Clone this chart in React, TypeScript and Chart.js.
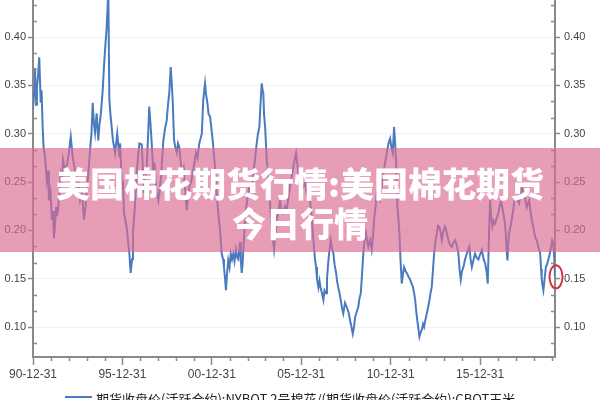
import React, { useEffect, useRef } from 'react';
import { Chart, registerables } from 'chart.js';

Chart.register(...registerables);

// Years elapsed since 1990-12-31 for each sampled point
const tYears: number[] = [
  0.00, 0.06, 0.11, 0.17, 0.22, 0.28, 0.35, 0.43, 0.48, 0.54,
  0.59, 0.67, 0.77, 0.84, 0.89, 0.98, 1.05, 1.12, 1.17, 1.23,
  1.29, 1.34, 1.40, 1.48, 1.55, 1.62, 1.68, 1.79, 1.88, 1.99,
  2.11, 2.22, 2.32, 2.44, 2.54, 2.63, 2.74, 2.85, 2.94, 3.00,
  3.10, 3.19, 3.27, 3.34, 3.41, 3.47, 3.56, 3.65, 3.72, 3.79,
  3.90, 3.97, 4.03, 4.12, 4.17, 4.21, 4.27, 4.33, 4.40, 4.47,
  4.59, 4.71, 4.83, 4.87, 4.96, 5.03, 5.09, 5.24, 5.31, 5.39,
  5.46, 5.54, 5.59, 5.70, 5.80, 5.87, 5.95, 6.08, 6.15, 6.21,
  6.29, 6.36, 6.43, 6.50, 6.57, 6.64, 6.73, 6.80, 6.88, 7.01,
  7.08, 7.14, 7.21, 7.29, 7.38, 7.48, 7.55, 7.62, 7.70, 7.75,
  7.81, 7.89, 7.97, 8.04, 8.11, 8.18, 8.32, 8.42, 8.50, 8.60,
  8.67, 8.74, 8.84, 8.93, 9.03, 9.12, 9.20, 9.30, 9.44, 9.52,
  9.62, 9.68, 9.75, 9.82, 9.90, 10.05, 10.18, 10.26, 10.36, 10.46,
  10.55, 10.63, 10.68, 10.74, 10.79, 10.85, 10.92, 10.99, 11.06, 11.13,
  11.20, 11.27, 11.35, 11.41, 11.48, 11.52, 11.58, 11.62, 11.67, 11.72,
  11.76, 11.83, 11.91, 12.00, 12.10, 12.19, 12.29, 12.39, 12.51, 12.58,
  12.66, 12.72, 12.79, 12.84, 12.88, 12.92, 12.98, 13.07, 13.14, 13.22,
  13.28, 13.35, 13.42, 13.48, 13.56, 13.63, 13.73, 13.81, 13.90, 14.00,
  14.09, 14.19, 14.29, 14.37, 14.46, 14.56, 14.65, 14.71, 14.77, 14.84,
  14.93, 15.03, 15.12, 15.21, 15.31, 15.41, 15.49, 15.58, 15.68, 15.77,
  15.83, 15.88, 15.96, 16.02, 16.09, 16.16, 16.24, 16.30, 16.39, 16.44,
  16.52, 16.58, 16.65, 16.72, 16.80, 16.86, 16.95, 17.00, 17.08, 17.14,
  17.21, 17.28, 17.35, 17.45, 17.54, 17.65, 17.73, 17.81, 17.88, 17.95,
  18.01, 18.09, 18.19, 18.26, 18.33, 18.40, 18.47, 18.54, 18.62, 18.68,
  18.75, 18.85, 18.94, 19.02, 19.07, 19.16, 19.22, 19.32, 19.41, 19.49,
  19.59, 19.69, 19.78, 19.88, 19.97, 20.05, 20.12, 20.19, 20.25, 20.30,
  20.38, 20.44, 20.49, 20.55, 20.62, 20.69, 20.75, 20.83, 20.90, 21.00,
  21.09, 21.17, 21.24, 21.31, 21.37, 21.42, 21.49, 21.56, 21.61, 21.67,
  21.74, 21.81, 21.87, 21.95, 22.02, 22.09, 22.17, 22.23, 22.30, 22.37,
  22.43, 22.51, 22.58, 22.65, 22.72, 22.79, 22.86, 22.93, 23.04, 23.13,
  23.23, 23.32, 23.42, 23.52, 23.60, 23.69, 23.79, 23.85, 23.92, 23.99,
  24.07, 24.16, 24.26, 24.33, 24.40, 24.47, 24.54, 24.64, 24.72, 24.80,
  24.91, 25.00, 25.10, 25.20, 25.28, 25.36, 25.43, 25.50, 25.56, 25.62,
  25.69, 25.76, 25.84, 25.92, 26.02, 26.09, 26.17, 26.23, 26.30, 26.37,
  26.44, 26.48, 26.53, 26.57, 26.62, 26.71, 26.77, 26.85, 26.92, 26.99,
  27.05, 27.13, 27.18, 27.27, 27.33, 27.41, 27.48, 27.55, 27.61, 27.68,
  27.74, 27.82, 27.89, 27.96, 28.04, 28.10, 28.17, 28.27, 28.36, 28.41,
  28.45, 28.50, 28.54, 28.61, 28.68, 28.75, 28.82, 28.89, 28.97, 29.03,
  29.10, 29.15, 29.19,
];

// Cotton / corn futures close ratio
const ratioValues: number[] = [
  0.325, 0.345, 0.368, 0.330, 0.348, 0.360, 0.379, 0.332, 0.345, 0.307,
  0.286, 0.276, 0.252, 0.262, 0.231, 0.240, 0.211, 0.220, 0.192, 0.205,
  0.224, 0.215, 0.221, 0.240, 0.259, 0.255, 0.273, 0.262, 0.266, 0.278,
  0.297, 0.276, 0.265, 0.245, 0.250, 0.231, 0.240, 0.211, 0.225, 0.239,
  0.260, 0.283, 0.300, 0.332, 0.310, 0.301, 0.321, 0.293, 0.310, 0.320,
  0.345, 0.370, 0.387, 0.410, 0.430, 0.450, 0.335, 0.320, 0.307, 0.293,
  0.280, 0.300, 0.276, 0.290, 0.249, 0.250, 0.218, 0.203, 0.190, 0.176,
  0.156, 0.170, 0.197, 0.225, 0.259, 0.275, 0.290, 0.289, 0.260, 0.239,
  0.255, 0.266, 0.295, 0.328, 0.310, 0.290, 0.259, 0.270, 0.245, 0.231,
  0.240, 0.252, 0.270, 0.293, 0.305, 0.314, 0.330, 0.342, 0.369, 0.355,
  0.335, 0.293, 0.285, 0.280, 0.290, 0.286, 0.259, 0.265, 0.245, 0.221,
  0.235, 0.245, 0.250, 0.259, 0.270, 0.280, 0.275, 0.290, 0.300, 0.335,
  0.352, 0.340, 0.332, 0.320, 0.318, 0.293, 0.265, 0.240, 0.218, 0.200,
  0.176, 0.170, 0.162, 0.150, 0.138, 0.155, 0.169, 0.162, 0.176, 0.170,
  0.176, 0.168, 0.180, 0.172, 0.170, 0.178, 0.188, 0.170, 0.156, 0.165,
  0.180, 0.200, 0.221, 0.235, 0.245, 0.240, 0.252, 0.270, 0.290, 0.300,
  0.307, 0.330, 0.352, 0.345, 0.342, 0.320, 0.307, 0.273, 0.260, 0.245,
  0.220, 0.200, 0.190, 0.180, 0.195, 0.211, 0.220, 0.231, 0.220, 0.218,
  0.225, 0.221, 0.235, 0.245, 0.255, 0.266, 0.275, 0.280, 0.270, 0.259,
  0.259, 0.242, 0.245, 0.250, 0.238, 0.235, 0.231, 0.215, 0.190, 0.170,
  0.162, 0.150, 0.141, 0.148, 0.140, 0.135, 0.128, 0.138, 0.135, 0.150,
  0.169, 0.180, 0.190, 0.182, 0.176, 0.165, 0.156, 0.148, 0.140, 0.135,
  0.128, 0.120, 0.114, 0.125, 0.121, 0.115, 0.107, 0.100, 0.093, 0.100,
  0.110, 0.115, 0.121, 0.130, 0.135, 0.155, 0.176, 0.190, 0.197, 0.190,
  0.183, 0.190, 0.180, 0.195, 0.211, 0.225, 0.238, 0.235, 0.231, 0.245,
  0.259, 0.270, 0.280, 0.290, 0.295, 0.285, 0.280, 0.307, 0.290, 0.273,
  0.224, 0.210, 0.197, 0.170, 0.145, 0.155, 0.162, 0.158, 0.156, 0.152,
  0.149, 0.145, 0.142, 0.135, 0.128, 0.118, 0.107, 0.097, 0.090, 0.094,
  0.097, 0.103, 0.100, 0.108, 0.114, 0.120, 0.128, 0.135, 0.142, 0.160,
  0.176, 0.190, 0.197, 0.205, 0.204, 0.198, 0.190, 0.198, 0.204, 0.198,
  0.190, 0.185, 0.183, 0.188, 0.190, 0.185, 0.176, 0.160, 0.149, 0.158,
  0.162, 0.170, 0.176, 0.180, 0.183, 0.170, 0.162, 0.170, 0.176, 0.172,
  0.170, 0.175, 0.180, 0.170, 0.166, 0.158, 0.145, 0.197, 0.231, 0.215,
  0.204, 0.210, 0.207, 0.212, 0.218, 0.225, 0.231, 0.225, 0.218, 0.210,
  0.197, 0.180, 0.169, 0.185, 0.197, 0.205, 0.211, 0.220, 0.231, 0.233,
  0.235, 0.230, 0.228, 0.238, 0.245, 0.240, 0.238, 0.230, 0.224, 0.228,
  0.231, 0.220, 0.211, 0.205, 0.197, 0.192, 0.190, 0.182, 0.176, 0.160,
  0.149, 0.142, 0.138, 0.150, 0.162, 0.165, 0.170, 0.175, 0.183, 0.190,
  0.187, 0.170, 0.152,
];

const xTickYears: number[] = [0, 5, 10, 15, 20, 25];
const xTickLabels: string[] = ['90-12-31', '95-12-31', '00-12-31', '05-12-31', '10-12-31', '15-12-31'];
const yTickValues: number[] = [0.10, 0.15, 0.20, 0.25, 0.30, 0.35, 0.40];

const X_MIN = 0;
const X_MAX = 29.19;
const Y_MIN = 0.069;
const Y_MAX = 0.4383;

const LEGEND_TEXT = '期货收盘价(活跃合约):NYBOT 2号棉花/(期货收盘价(活跃合约):CBOT玉米';
const TITLE_LINE1 = '美国棉花期货行情:美国棉花期货';
const TITLE_LINE2 = '今日行情';

const LINE_COLOR = '#4a7bbf';
const AXIS_COLOR = '#8a8a8a';
const LABEL_COLOR = '#444444';
const TICK_FONT = 'Liberation Sans';

const zeroPad = (s: any) => {
  s.paddingTop = 0;
  s.paddingBottom = 0;
  s.paddingLeft = 0;
  s.paddingRight = 0;
};

const decorPlugin = {
  id: 'decor',
  afterDraw(chart: any) {
    const ctx: CanvasRenderingContext2D = chart.ctx;
    const xs = chart.scales.x;
    const ys = chart.scales.y;
    const { left, right, top, bottom } = chart.chartArea;
    ctx.save();
    ctx.strokeStyle = AXIS_COLOR;
    ctx.lineWidth = 1.5;
    // minor y ticks (inward)
    const step = 0.05 / 3;
    for (let i = 0; i < 40; i++) {
      const v = 0.1 - step + i * step;
      if (v > Y_MAX) break;
      if (Math.abs(v * 20 - Math.round(v * 20)) < 1e-6) continue;
      const py = Math.round(ys.getPixelForValue(v)) + 0.5;
      if (py < top) continue;
      ctx.beginPath();
      ctx.moveTo(left, py);
      ctx.lineTo(left + 4, py);
      ctx.moveTo(right - 4, py);
      ctx.lineTo(right, py);
      ctx.stroke();
    }
    // minor x ticks (outward, short)
    for (let yr = 1; yr <= Math.floor(X_MAX); yr++) {
      if (yr % 5 === 0) continue;
      const px = Math.round(xs.getPixelForValue(yr)) + 0.5;
      ctx.beginPath();
      ctx.moveTo(px, bottom);
      ctx.lineTo(px, bottom + 4);
      ctx.stroke();
    }
    // red annotation ellipse around the last point
    const lastIdx = tYears.length - 1;
    const lx = xs.getPixelForValue(tYears[lastIdx]);
    const ly = ys.getPixelForValue(ratioValues[lastIdx]);
    ctx.strokeStyle = '#d2353c';
    ctx.lineWidth = 2;
    ctx.beginPath();
    ctx.ellipse(lx + 1, ly, 6.5, 11.5, 0, 0, Math.PI * 2);
    ctx.stroke();
    // legend (partly below the visible area)
    ctx.strokeStyle = LINE_COLOR;
    ctx.lineWidth = 2;
    ctx.beginPath();
    ctx.moveTo(65, 397);
    ctx.lineTo(92, 397);
    ctx.stroke();
    ctx.fillStyle = '#222';
    ctx.font = '13px "Noto Sans CJK SC"';
    ctx.textBaseline = 'middle';
    ctx.textAlign = 'left';
    ctx.fillText(LEGEND_TEXT, 96, 399);
    ctx.restore();
  },
};

export default function App() {
  const ref = useRef<HTMLCanvasElement>(null);
  useEffect(() => {
    const points = tYears.map((t, i) => ({ x: t, y: ratioValues[i] }));
    const tickFont = { family: TICK_FONT, size: 11 };
    const chart = new Chart(ref.current as HTMLCanvasElement, {
      type: 'line',
      data: {
        datasets: [
          {
            label: LEGEND_TEXT,
            data: points,
            borderColor: LINE_COLOR,
            backgroundColor: LINE_COLOR,
            borderWidth: 2,
            pointRadius: 0,
            tension: 0,
            fill: false,
          },
        ],
      },
      options: {
        animation: false,
        responsive: false,
        devicePixelRatio: 1,
        layout: { padding: 0 },
        plugins: { legend: { display: false }, tooltip: { enabled: false } },
        scales: {
          x: {
            type: 'linear',
            min: X_MIN,
            max: X_MAX,
            afterFit: (s: any) => { s.height = 43; zeroPad(s); },
            afterBuildTicks: (s: any) => { s.ticks = xTickYears.map((v) => ({ value: v })); },
            ticks: {
              autoSkip: false,
              maxRotation: 0,
              padding: 2,
              color: LABEL_COLOR,
              font: { family: TICK_FONT, size: 12 },
              callback: (v: any) => {
                const i = xTickYears.indexOf(Number(v));
                return i >= 0 ? xTickLabels[i] : '';
              },
            },
            grid: { drawOnChartArea: false, tickLength: 8, tickColor: AXIS_COLOR, tickWidth: 1.5 },
            border: { display: true, color: AXIS_COLOR, width: 2 },
          },
          y: {
            type: 'linear',
            position: 'left',
            min: Y_MIN,
            max: Y_MAX,
            afterFit: (s: any) => { s.width = 33; zeroPad(s); },
            afterBuildTicks: (s: any) => { s.ticks = yTickValues.map((v) => ({ value: v })); },
            ticks: {
              padding: 2,
              color: LABEL_COLOR,
              font: tickFont,
              callback: (v: any) => Number(v).toFixed(2),
            },
            grid: { color: '#f0f0f0', lineWidth: 1, tickLength: 5, tickColor: AXIS_COLOR, tickWidth: 1.5 },
            border: { display: true, color: AXIS_COLOR, width: 2 },
          },
          y2: {
            type: 'linear',
            position: 'right',
            min: Y_MIN,
            max: Y_MAX,
            afterFit: (s: any) => { s.width = 45; zeroPad(s); },
            afterBuildTicks: (s: any) => { s.ticks = yTickValues.map((v) => ({ value: v })); },
            ticks: {
              padding: 4,
              color: LABEL_COLOR,
              font: tickFont,
              callback: (v: any) => Number(v).toFixed(2),
            },
            grid: { drawOnChartArea: false, tickLength: 5, tickColor: AXIS_COLOR, tickWidth: 1.5 },
            border: { display: true, color: AXIS_COLOR, width: 2 },
          },
        },
      } as any,
      plugins: [decorPlugin],
    });
    return () => chart.destroy();
  }, []);

  return (
    <div style={{ position: 'fixed', left: 0, top: 0, width: 600, height: 400, background: '#ffffff', overflow: 'hidden' }}>
      <canvas ref={ref} width={600} height={400} style={{ display: 'block', width: 600, height: 400 }} />
      <div
        style={{
          position: 'absolute',
          left: 0,
          top: 148,
          width: 600,
          height: 104,
          boxSizing: 'border-box',
          paddingTop: 15,
          background: 'rgba(220,107,145,0.66)',
          color: '#ffffff',
          fontFamily: '"Noto Sans CJK SC", sans-serif',
          fontWeight: 900,
          fontSize: 34,
          lineHeight: '40px',
          textAlign: 'center',
          whiteSpace: 'nowrap',
        }}
      >
        {TITLE_LINE1}
        <br />
        {TITLE_LINE2}
      </div>
    </div>
  );
}
